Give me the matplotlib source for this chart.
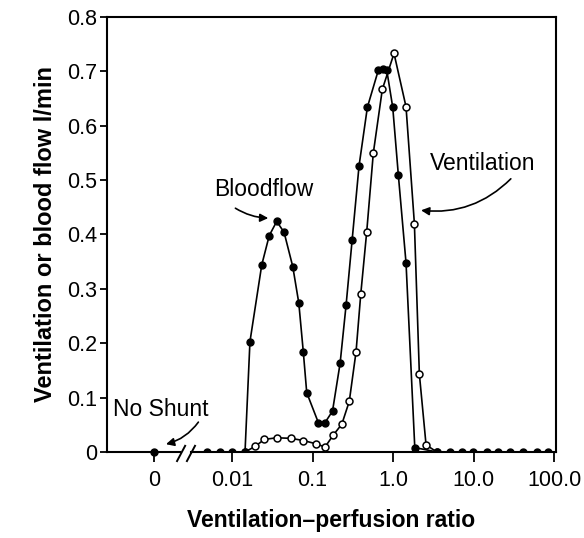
import numpy as np
import matplotlib.pyplot as plt

plt.rcParams['font.family'] = ['Liberation Sans', 'DejaVu Sans']

# V/Q ratio of each compartment and flow (l/min)
shunt_x = [0.00107]
shunt_y = [0.0]

blood_x = [0.0049, 0.0071, 0.0100, 0.0145, 0.0167, 0.0234, 0.0290, 0.0359,
           0.0443, 0.0568, 0.0675, 0.0769, 0.0847, 0.118, 0.143, 0.177,
           0.220, 0.261, 0.310, 0.378, 0.480, 0.656, 0.759, 0.836, 0.991,
           1.164, 1.449, 1.862, 3.49, 5.10, 7.13, 9.95, 14.6, 20.3, 28.4,
           41.6, 61.0, 84.9]
blood_y = [0.0, 0.0, 0.0, 0.0, 0.203, 0.344, 0.398, 0.424,
           0.404, 0.341, 0.274, 0.183, 0.109, 0.054, 0.054, 0.075,
           0.163, 0.270, 0.389, 0.526, 0.634, 0.702, 0.705, 0.702, 0.634,
           0.509, 0.348, 0.008, 0.0, 0.0, 0.0, 0.0, 0.0, 0.0, 0.0,
           0.0, 0.0, 0.0]

vent_x = [0.0145, 0.0193, 0.0252, 0.0359, 0.0536, 0.0769, 0.110, 0.143,
          0.181, 0.231, 0.286, 0.347, 0.397, 0.471, 0.569, 0.736, 1.028,
          1.449, 1.841, 2.123, 2.570, 3.49]
vent_y = [0.0, 0.010, 0.023, 0.026, 0.025, 0.021, 0.015, 0.009,
          0.031, 0.051, 0.093, 0.184, 0.290, 0.405, 0.550, 0.667, 0.733,
          0.635, 0.420, 0.143, 0.013, 0.0]

xticks = [0.00107, 0.01, 0.1, 1.0, 10.0, 100.0]
xticklabels = ['0', '0.01', '0.1', '1.0', '10.0', '100.0']
yticks = [0, 0.1, 0.2, 0.3, 0.4, 0.5, 0.6, 0.7, 0.8]
yticklabels = ['0', '0.1', '0.2', '0.3', '0.4', '0.5', '0.6', '0.7', '0.8']

fig = plt.figure(figsize=(5.84, 5.38), dpi=100)
ax = fig.add_axes([0.1832, 0.16, 0.769, 0.8084])

ax.plot(vent_x, vent_y, '-o', color='black', lw=1.2, ms=5,
        mfc='white', mec='black', mew=1.1, zorder=3)
ax.plot(blood_x, blood_y, '-o', color='black', lw=1.2, ms=5,
        mfc='black', mec='black', zorder=4)
ax.plot(shunt_x, shunt_y, 'o', color='black', ms=5, zorder=4, clip_on=False)

ax.set_xscale('log')
ax.set_xlim(10 ** -3.553, 10 ** 2.025)
ax.set_ylim(0, 0.8)
ax.set_xticks(xticks)
ax.set_xticklabels(xticklabels)
ax.set_yticks(yticks)
ax.set_yticklabels(yticklabels)
ax.minorticks_off()
ax.tick_params(axis='x', direction='out', length=7, width=1.3, pad=6,
               labelsize=15.5)
ax.tick_params(axis='y', direction='out', length=5, width=1.3, pad=2,
               labelsize=15.5)

for s in ['left', 'top', 'right']:
    ax.spines[s].set_linewidth(1.5)
ax.spines['bottom'].set_visible(False)

# broken bottom axis
tr = ax.transAxes
ax.plot([0, 0.1626], [0, 0], color='black', lw=1.5, transform=tr, clip_on=False)
ax.plot([0.187, 1], [0, 0], color='black', lw=1.5, transform=tr, clip_on=False)
for x0 in [0.156, 0.178]:
    ax.plot([x0, x0 + 0.018], [-0.021, 0.014], color='black', lw=1.4,
            transform=tr, clip_on=False)

ax.set_xlabel('Ventilation\u2013perfusion ratio', fontsize=16.5,
              fontweight='bold', labelpad=13)
ax.set_ylabel('Ventilation or blood flow l/min', fontsize=17,
              fontweight='bold', labelpad=7)

# annotations
ax.text(0.025, 0.482, 'Bloodflow', fontsize=16.5, ha='center', va='center')
ax.annotate('', xy=(0.0305, 0.430), xytext=(0.0103, 0.451),
            arrowprops=dict(arrowstyle='-|>', color='black', lw=1.2,
                            mutation_scale=12,
                            connectionstyle='arc3,rad=0.15'))
ax.text(12.9, 0.530, 'Ventilation', fontsize=16.5, ha='center', va='center')
ax.annotate('', xy=(2.06, 0.445), xytext=(30.7, 0.506),
            arrowprops=dict(arrowstyle='-|>', color='black', lw=1.2,
                            mutation_scale=12,
                            connectionstyle='arc3,rad=-0.25'))
ax.text(0.00131, 0.0772, 'No Shunt', fontsize=16.5, ha='center', va='center')
ax.annotate('', xy=(0.0014, 0.013), xytext=(0.0040, 0.059),
            arrowprops=dict(arrowstyle='-|>', color='black', lw=1.2,
                            mutation_scale=12,
                            connectionstyle='arc3,rad=-0.2'))

fig.savefig('out.png', dpi=100)
